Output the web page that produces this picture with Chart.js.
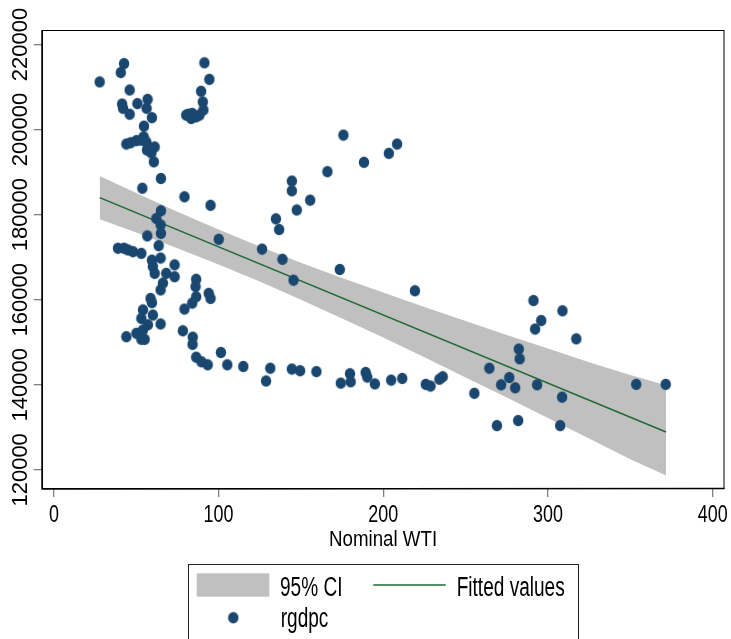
<!DOCTYPE html>
<html>
<head>
<meta charset="utf-8">
<title>rgdpc vs Nominal WTI</title>
<script src="https://cdn.jsdelivr.net/npm/chart.js@4.4.1/dist/chart.umd.min.js"></script>
<style>
  html, body { margin: 0; padding: 0; background: #ffffff; }
  canvas { display: block; }
</style>
</head>
<body>
<canvas id="chart" width="731" height="639"></canvas>
<script>
// Nominal WTI (x) and real GDP per capita (y), one entry per observation
const wti = [
  27.8, 42.6, 40.6, 46.0, 41.4, 42.0, 46.0, 50.7, 56.9, 56.3,
  59.5, 54.7, 44.0, 46.6, 50.1, 53.1, 54.5, 56.1, 57.5, 61.2,
  56.5, 59.2, 60.7, 65.0, 53.7, 79.3, 95.1, 65.0, 62.2, 64.8,
  65.0, 56.7, 100.1, 63.6, 38.9, 42.6, 45.0, 48.0, 53.1, 59.5,
  64.8, 60.1, 61.2, 68.2, 73.3, 73.3, 66.2, 64.8, 86.4, 86.0,
  86.4, 84.0, 79.3, 94.0, 95.1, 58.7, 59.5, 54.1, 53.1, 60.1,
  64.8, 57.1, 54.1, 50.1, 44.0, 53.1, 55.1, 78.3, 84.3, 84.2,
  86.4, 89.6, 93.4, 101.4, 105.3, 115.0, 131.4, 128.8, 144.5, 149.5,
  159.4, 174.2, 179.8, 180.2, 189.3, 190.3, 194.9, 204.8, 211.5, 225.8,
  228.7, 234.1, 236.1, 126.4, 138.8, 145.5, 134.8, 136.8, 144.5, 144.5,
  147.5, 155.6, 166.1, 175.8, 188.3, 203.4, 208.4, 173.6, 219.2, 91.4,
  94.4, 89.4, 90.4, 90.8, 80.3, 81.7, 84.0, 83.4, 86.4, 88.4,
  255.3, 264.4, 269.0, 271.6, 276.5, 280.1, 281.9, 282.3, 282.8, 291.2,
  292.2, 293.4, 295.9, 307.4, 308.6, 308.8, 317.2, 353.6, 371.5
];
const rgdpc = [
  211200, 215500, 213400, 209300, 206000, 205000, 203600, 206100, 207100, 205000,
  202800, 200800, 196600, 196900, 197400, 197500, 198300, 197100, 195900, 195900,
  195200, 194500, 192400, 188500, 186200, 184200, 182200, 180900, 179100, 177600,
  175600, 175000, 174200, 172700, 172100, 172100, 171700, 171300, 170900, 169300,
  169800, 167800, 166200, 166200, 168200, 165400, 163900, 162300, 164800, 163100,
  160700, 159200, 157800, 161500, 160300, 160300, 159300, 157600, 155600, 156400,
  154300, 154100, 152900, 152100, 151300, 150700, 150700, 152700, 151200, 149500,
  146500, 145400, 144700, 147600, 144700, 144300, 143900, 140900, 143700, 143300,
  143100, 140400, 142600, 140700, 142900, 141800, 140200, 141100, 141500, 140100,
  139700, 141300, 141900, 171900, 169500, 164600, 179000, 176500, 187900, 185600,
  181100, 183400, 190100, 198700, 192300, 194400, 196600, 167100, 162100, 215700,
  211800, 209000, 206500, 204600, 203400, 203600, 203800, 202600, 203000, 203400,
  138000, 143900, 130400, 140000, 141700, 139300, 131600, 148400, 146100, 159800,
  153100, 140000, 155100, 130400, 137100, 157400, 150800, 140100, 140100
];

// Linear fit and its 95% confidence band
const fitX = [27.8, 371.7];
const fitY = [184000, 128900];
const ciX = [27.8, 50, 75, 100, 125, 150, 175, 200, 225, 250, 275, 300, 325, 350, 371.7];
const ciUpper = [189100, 185100, 180700, 176500, 172500, 168700, 165100, 161700, 158300, 155000, 151700, 148500, 145300, 142300, 139900];
const ciLower = [178900, 175800, 172100, 168300, 164300, 160000, 155600, 151100, 146500, 141700, 137000, 132200, 127400, 122500, 118700];

// Axis ticks and texts
const xTicks = [0, 100, 200, 300, 400];
const yTicks = [120000, 140000, 160000, 180000, 200000, 220000];
const xTitle = 'Nominal WTI';
const seriesNames = ['95% CI', 'Fitted values', 'rgdpc'];

const NAVY = '#1a476f';
const GREEN = '#1f6a36';
const BAND = '#c0c0c0';
const FONT = '"Liberation Sans", Arial, sans-serif';

// Slightly tall oval marker
function makeMarker() {
  const c = document.createElement('canvas');
  c.width = 12; c.height = 13;
  const g = c.getContext('2d');
  g.fillStyle = NAVY;
  g.beginPath();
  g.ellipse(6, 6.5, 5.2, 5.7, 0, 0, Math.PI * 2);
  g.fill();
  return c;
}
const marker = makeMarker();

const scatterPts = wti.map((x, i) => ({ x: x, y: rgdpc[i] }));
const fitPts = fitX.map((x, i) => ({ x: x, y: fitY[i] }));
const upperPts = ciX.map((x, i) => ({ x: x, y: ciUpper[i] }));
const lowerPts = ciX.map((x, i) => ({ x: x, y: ciLower[i] }));

// Draws text squeezed horizontally by sx around its anchor
function narrowText(ctx, text, x, y, sx) {
  ctx.save();
  ctx.translate(x, y);
  ctx.scale(sx, 1);
  ctx.fillText(text, 0, 0);
  ctx.restore();
}

// Plot frame, axis labels and the boxed legend
const decorations = {
  id: 'decorations',
  afterDraw(chart) {
    const ctx = chart.ctx;
    const a = chart.chartArea;
    ctx.save();

    // frame
    ctx.strokeStyle = '#000';
    ctx.lineWidth = 1;
    ctx.strokeRect(a.left + 0.5, a.top + 0.5, a.right - a.left - 1, a.bottom - a.top - 1);
    ctx.lineWidth = 1.6;
    ctx.beginPath();
    ctx.moveTo(a.left + 0.5, a.top);
    ctx.lineTo(a.left + 0.5, a.bottom);
    ctx.lineTo(a.right, a.bottom - 0.5);
    ctx.stroke();

    ctx.fillStyle = '#000';
    ctx.textBaseline = 'alphabetic';

    // y tick labels, reading bottom to top
    const ys = chart.scales.y;
    ctx.font = '22px ' + FONT;
    ctx.textAlign = 'center';
    yTicks.forEach(v => {
      const py = ys.getPixelForValue(v);
      ctx.save();
      ctx.translate(26.7, py);
      ctx.rotate(-Math.PI / 2);
      ctx.fillText(String(v), 0, 0);
      ctx.restore();
    });

    // x tick labels
    const xs = chart.scales.x;
    ctx.font = '23.3px ' + FONT;
    xTicks.forEach(v => {
      narrowText(ctx, String(v), xs.getPixelForValue(v), 522, 0.77);
    });

    // x axis title
    ctx.font = '22px ' + FONT;
    narrowText(ctx, xTitle, (a.left + a.right) / 2, 545.7, 0.85);

    // legend
    const ds = chart.data.datasets;
    ctx.strokeStyle = '#222';
    ctx.lineWidth = 1;
    ctx.strokeRect(188.5, 564.5, 390, 90);

    ctx.fillStyle = ds[3].backgroundColor;
    ctx.fillRect(196.7, 573.3, 72.6, 23.4);

    ctx.strokeStyle = ds[1].borderColor;
    ctx.lineWidth = ds[1].borderWidth;
    ctx.beginPath();
    ctx.moveTo(373.3, 585);
    ctx.lineTo(445.7, 585);
    ctx.stroke();

    ctx.drawImage(marker, 233.3 - marker.width / 2, 617.7 - marker.height / 2);

    ctx.font = '27px ' + FONT;
    ctx.fillStyle = '#000';
    ctx.textAlign = 'left';
    const sx = 108 / ctx.measureText(seriesNames[1]).width;
    narrowText(ctx, seriesNames[0], 280, 595.5, sx);
    narrowText(ctx, seriesNames[1], 456.7, 595.5, sx);
    narrowText(ctx, seriesNames[2], 280.7, 627.3, sx);

    ctx.restore();
  }
};

new Chart(document.getElementById('chart'), {
  type: 'scatter',
  data: {
    datasets: [
      {
        label: seriesNames[2],
        data: scatterPts,
        pointStyle: marker,
        pointRadius: 5.5,
        pointHoverRadius: 5.5,
        order: 0
      },
      {
        type: 'line',
        label: seriesNames[1],
        data: fitPts,
        borderColor: GREEN,
        borderWidth: 1.5,
        pointRadius: 0,
        fill: false,
        tension: 0,
        order: 1
      },
      {
        type: 'line',
        label: 'upper',
        data: upperPts,
        borderWidth: 0,
        borderColor: 'rgba(0,0,0,0)',
        pointRadius: 0,
        fill: false,
        tension: 0,
        order: 2
      },
      {
        type: 'line',
        label: seriesNames[0],
        data: lowerPts,
        borderWidth: 0,
        borderColor: 'rgba(0,0,0,0)',
        backgroundColor: BAND,
        pointRadius: 0,
        fill: '-1',
        tension: 0,
        order: 3
      }
    ]
  },
  options: {
    responsive: false,
    animation: false,
    devicePixelRatio: 1,
    layout: { padding: { top: 30, right: 4.3, bottom: 0, left: 0 } },
    plugins: {
      legend: { display: false },
      tooltip: { enabled: false }
    },
    scales: {
      x: {
        type: 'linear',
        min: -7.4,
        max: 407.2,
        afterBuildTicks: s => { s.ticks = xTicks.map(v => ({ value: v })); },
        afterFit: s => { s.height = 150; },
        border: { display: false },
        grid: {
          display: true,
          drawOnChartArea: false,
          drawTicks: true,
          tickLength: 8,
          color: '#808080',
          lineWidth: 1.3
        },
        ticks: { display: false }
      },
      y: {
        type: 'linear',
        min: 115500,
        max: 223400,
        afterBuildTicks: s => { s.ticks = yTicks.map(v => ({ value: v })); },
        afterFit: s => { s.width = 41.7; },
        border: { display: false },
        grid: {
          display: true,
          drawOnChartArea: false,
          drawTicks: true,
          tickLength: 8,
          color: '#808080',
          lineWidth: 1.3
        },
        ticks: { display: false }
      }
    }
  },
  plugins: [decorations]
});
</script>
</body>
</html>
